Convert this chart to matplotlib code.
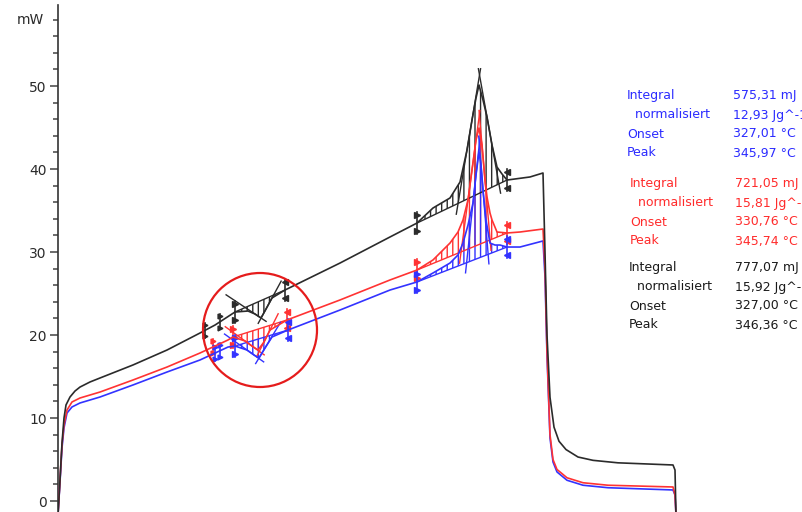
import numpy as np
import matplotlib
matplotlib.use("Agg")
import matplotlib.pyplot as plt
from matplotlib.patches import Circle
from matplotlib.transforms import IdentityTransform

plt.rcParams['font.family'] = ['DejaVu Sans']
plt.rcParams['hatch.linewidth'] = 1.0

# ---------------- data (time in min, heat flow in mW) ----------------
t_black = [0, 0.2, 0.4, 0.6, 0.8, 1.2, 1.7, 2.2, 3.2, 4.2, 7.5, 10.9, 14.2, 15.7, 17.7, 19.0, 19.7,
           20.3, 20.8, 21.4, 22.7, 28.2, 33.2, 35.9, 37.5, 39.2, 40.2, 40.9, 41.4, 41.8, 42.1, 42.5,
           42.9, 43.4, 43.9, 44.4, 44.9, 47.2, 48.5, 48.7, 48.9, 49.2, 49.6, 50.1, 50.8, 52.0, 53.5,
           56.0, 61.5, 61.7, 61.8]
y_black = [-1.69, 2.53, 6.99, 10.00, 11.57, 12.53, 13.25, 13.73, 14.34, 14.82, 16.39, 18.19, 20.24,
           21.20, 22.77, 22.89, 22.53, 22.05, 23.13, 24.46, 25.42, 28.67, 31.81, 33.49, 35.30, 36.51,
           38.43, 42.29, 45.90, 48.55, 50.12, 48.31, 46.27, 42.89, 40.24, 39.40, 38.67, 39.04, 39.52,
           30.0, 20.0, 12.5, 8.9, 7.2, 6.2, 5.3, 4.9, 4.6, 4.34, 3.73, -1.69]

t_red = [0, 0.2, 0.4, 0.6, 0.9, 1.4, 2.2, 4.2, 7.5, 10.9, 14.2, 17.0, 17.5, 18.7, 19.4, 20.0, 20.6,
         21.2, 22.9, 28.2, 33.2, 35.9, 37.5, 39.2, 40.0, 40.5, 41.0, 41.4, 41.8, 42.1, 42.4, 42.7,
         42.9, 43.2, 43.4, 43.9, 44.9, 46.2, 48.5, 48.7, 48.9, 49.2, 49.5, 49.9, 50.9, 52.5, 55.0,
         61.5, 61.7, 61.8]
y_red = [-1.69, 2.53, 6.75, 9.16, 10.96, 11.93, 12.41, 13.13, 14.58, 16.14, 17.83, 19.40, 19.76,
         19.28, 18.67, 18.19, 19.16, 20.60, 21.81, 24.22, 26.63, 27.83, 29.04, 31.08, 32.41, 33.86,
         36.27, 39.88, 43.49, 44.94, 42.89, 38.67, 36.63, 34.70, 33.86, 32.41, 32.29, 32.41, 32.77,
         28.0, 18.0, 8.0, 5.0, 3.8, 2.8, 2.2, 1.9, 1.69, 0.72, -1.69]

t_blue = [0, 0.2, 0.4, 0.6, 0.9, 1.4, 2.2, 4.2, 7.5, 10.9, 14.2, 17.0, 17.7, 18.9, 19.6, 20.1, 20.7,
          21.4, 23.0, 28.2, 33.2, 35.9, 37.5, 39.2, 40.0, 40.5, 41.0, 41.5, 41.8, 42.1, 42.3, 42.5,
          42.8, 43.2, 43.7, 44.2, 44.9, 46.2, 48.5, 48.7, 48.9, 49.2, 49.5, 49.9, 50.9, 52.5, 55.0,
          61.5, 61.7, 61.8]
y_blue = [-1.69, 2.29, 6.39, 8.80, 10.60, 11.33, 11.81, 12.53, 13.98, 15.54, 16.99, 18.55, 18.67,
          18.19, 17.59, 17.23, 18.43, 19.76, 20.60, 23.01, 25.42, 26.39, 27.47, 28.67, 29.64, 31.08,
          33.25, 35.90, 39.28, 42.05, 40.48, 37.47, 33.86, 31.08, 30.84, 30.84, 30.60, 30.60, 31.33,
          27.0, 17.5, 7.6, 4.7, 3.5, 2.5, 1.9, 1.6, 1.33, 0.72, -1.69]

# evaluation limits (start, end, direction: +1 peak up, -1 dip)
events_black = [(35.9, 44.9, 1), (17.7, 22.7, -1)]
events_red = [(35.9, 44.9, 1), (17.5, 22.9, -1)]
events_blue = [(35.9, 44.9, 1), (17.7, 23.0, -1)]
extra_limits_black = [14.7, 16.2]
extra_limits_red = [15.5]
extra_limits_blue = [15.7, 16.2]

labels_left = ["Integral", "  normalisiert", "Onset", "Peak"]
vals_blue = ["575,31 mJ", "12,93 Jg^-1", "327,01 °C", "345,97 °C"]
vals_red = ["721,05 mJ", "15,81 Jg^-1", "330,76 °C", "345,74 °C"]
vals_black = ["777,07 mJ", "15,92 Jg^-1", "327,00 °C", "346,36 °C"]

C_BLACK = "#2b2b2b"
C_RED = "#ff3333"
C_BLUE = "#3333ff"

W, H = 803, 512
fig = plt.figure(figsize=(W / 100, H / 100), dpi=100)
ax = fig.add_axes([58 / W, 0, (W - 58) / W, 507 / H])
ax.set_xlim(0, 74.5)
ax.set_ylim(-1.325, 59.76)
for s in ["top", "right", "bottom"]:
    ax.spines[s].set_visible(False)
ax.spines["left"].set_color("#333333")
ax.spines["left"].set_linewidth(1.2)
ax.set_xticks([])
ax.set_yticks([0, 10, 20, 30, 40, 50])
ax.set_yticks(np.arange(2, 59, 2), minor=True)
ax.tick_params(axis="y", which="major", length=6, width=1.1, color="#444444",
               labelsize=10, labelcolor="#2a2a2a", pad=2)
ax.tick_params(axis="y", which="minor", length=3.8, width=1.1, color="#444444")
ax.text(-0.019, 57.9, "mW", transform=ax.get_yaxis_transform(), ha="right",
        va="center", fontsize=10, color="#2a2a2a")

fig.canvas.draw()
inv = ax.transData.inverted()


def to_px(tx, ty):
    return ax.transData.transform((tx, ty))


def to_data(px, py):
    return inv.transform((px, py))


def annotate(t, y, events, extra, color):
    t = np.asarray(t, float)
    y = np.asarray(y, float)
    for (t1, t2, sgn) in events:
        m = (t >= t1 - 1e-9) & (t <= t2 + 1e-9)
        tt, yy = t[m], y[m]
        y1, y2 = yy[0], yy[-1]
        base = y1 + (y2 - y1) * (tt - tt[0]) / (tt[-1] - tt[0])
        ax.fill_between(tt, yy, base, facecolor="none", edgecolor=color,
                        hatch="|||", linewidth=0, zorder=2)
        ax.plot([tt[0], tt[-1]], [y1, y2], color=color, lw=1.0, zorder=3)
        h = sgn * (yy - base)
        ip = int(np.argmax(h))
        hmax = h[ip]
        bslope = (y2 - y1) / (tt[-1] - tt[0])
        sl = np.diff(yy) / np.diff(tt)
        il = int(np.argmax(sgn * sl[:ip])) if ip > 0 else 0
        ir = ip + int(np.argmin(sgn * sl[ip:])) if ip < len(sl) else len(sl) - 1
        if sgn > 0:
            for i in (il, ir):
                mm = sl[i]
                tx, ty = tt[i], yy[i]
                tb = (y1 - bslope * tt[0] - ty + mm * tx) / (mm - bslope)
                yb = ty + mm * (tb - tx)
                ytop = yy[ip] + 0.15 * hmax
                te = tx + (ytop - ty) / mm
                ax.plot([tb - (te - tb) * 0.08, te], [yb - (ytop - yb) * 0.08, ytop],
                        color=color, lw=1.0, zorder=3)
        else:
            pts = []
            for i in (il, ir):
                a = to_px(tt[i], yy[i])
                b = to_px(tt[i + 1], yy[i + 1])
                pts.append((a, b))
            (a1, b1), (a2, b2) = pts
            d1 = b1 - a1
            d2 = b2 - a2
            A = np.array([d1, -d2]).T
            s_, _ = np.linalg.solve(A, a2 - a1)
            P = a1 + s_ * d1
            for d, side in ((d1, -1), (d2, 1)):
                u = d / np.hypot(*d)
                if u[0] * side < 0:
                    u = -u
                p0 = P - u * 6
                p1 = P + u * 42
                q0 = to_data(*p0)
                q1 = to_data(*p1)
                ax.plot([q0[0], q1[0]], [q0[1], q1[1]], color=color, lw=1.0, zorder=3)
        for tl, yl, mk in ((tt[0], y1, ">"), (tt[-1], y2, "<")):
            ax.plot([tl, tl], [yl - 1.3, yl + 1.3], color=color, lw=1.2, zorder=4)
            ax.plot([tl, tl], [yl - 1.0, yl + 1.0], ls="none", marker=mk,
                    ms=4, color=color, zorder=4)
    for tl in extra:
        yl = np.interp(tl, t, y)
        ax.plot([tl, tl], [yl - 0.9, yl + 0.9], color=color, lw=1.2, zorder=4)
        ax.plot([tl, tl], [yl - 0.7, yl + 0.7], ls="none", marker=">",
                ms=3.5, color=color, zorder=4)


ax.plot(t_blue, y_blue, color=C_BLUE, lw=1.2, zorder=5)
ax.plot(t_red, y_red, color=C_RED, lw=1.2, zorder=5)
ax.plot(t_black, y_black, color=C_BLACK, lw=1.2, zorder=5)
annotate(t_black, y_black, events_black, extra_limits_black, C_BLACK)
annotate(t_red, y_red, events_red, extra_limits_red, C_RED)
annotate(t_blue, y_blue, events_blue, extra_limits_blue, C_BLUE)

circ = Circle((260, H - 330), 57, transform=IdentityTransform(), fill=False,
              edgecolor="#e51c1c", lw=1.6, zorder=10)
fig.patches.append(circ)

blocks = [(vals_blue, "#2b2bff", 627, 733, 96),
          (vals_red, "#ff2b2b", 630, 735, 184),
          (vals_black, "#1a1a1a", 629, 735, 268)]
for vals, col, xl, xv, y0 in blocks:
    for k, (lab, val) in enumerate(zip(labels_left, vals)):
        yy = H - (y0 + 19 * k)
        fig.text(xl / W, yy / H, lab, color=col, fontsize=9, ha="left", va="center")
        fig.text(xv / W, yy / H, val, color=col, fontsize=9, ha="left", va="center")

fig.savefig("out.png", dpi=100)
